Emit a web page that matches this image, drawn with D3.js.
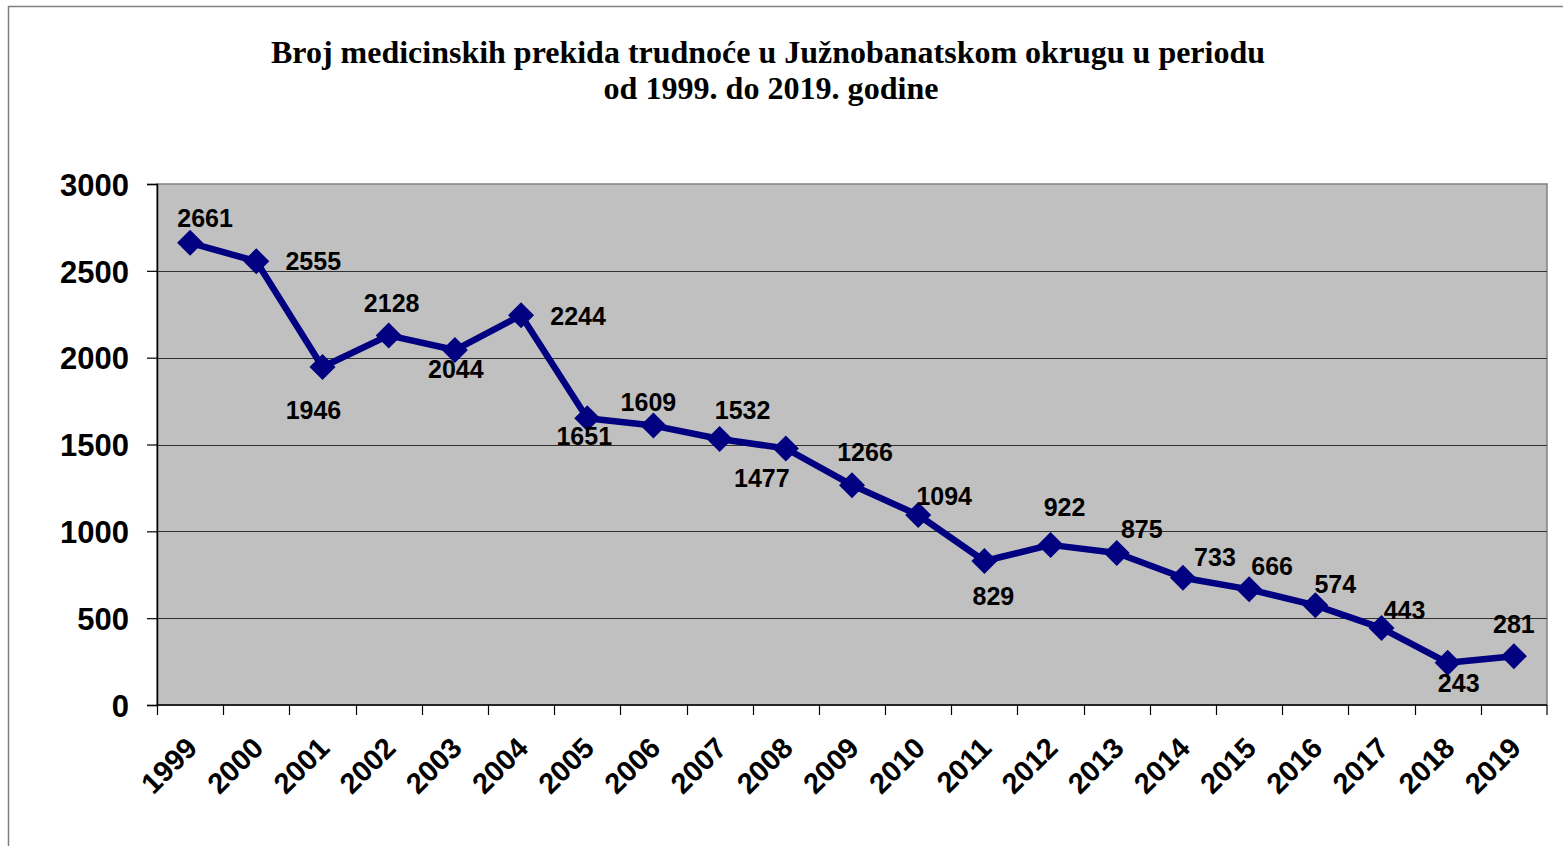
<!DOCTYPE html>
<html>
<head>
<meta charset="utf-8">
<script src="https://cdn.jsdelivr.net/npm/d3@7"></script>
<style>
  body { margin: 0; background: #fff; }
  svg { display: block; }
</style>
</head>
<body>
<svg width="1563" height="846"></svg>
<script>
// chart data
var years = ["1999","2000","2001","2002","2003","2004","2005","2006","2007","2008","2009",
             "2010","2011","2012","2013","2014","2015","2016","2017","2018","2019"];
var values = [2661,2555,1946,2128,2044,2244,1651,1609,1532,1477,1266,
              1094,829,922,875,733,666,574,443,243,281];
var yTicks = [0,500,1000,1500,2000,2500,3000];
var titleLines = ["Broj medicinskih prekida trudnoće u Južnobanatskom okrugu u periodu",
                  "od 1999. do 2019. godine"];

// where each data label sits relative to its point (dx, dy), as placed in the original
var labelOffsets = [[15,-25],[57,0],[-9,43],[3,-32],[1,19],[57,1],[-3,18],[-5,-24],[23,-29],[-24,30],[13,-33],
                    [26,-19],[9,35],[14,-38],[25,-24],[32,-21],[23,-23],[20,-21],[23,-18],[11,20],[0,-32]];

var svg = d3.select("svg"),
    plot = {left: 157, top: 184, right: 1547, bottom: 705};

// outer chart frame
svg.append("rect")
    .attr("x", 8.5).attr("y", 6.5)
    .attr("width", 1700).attr("height", 1000)
    .attr("fill", "#fff").attr("stroke", "#808080").attr("stroke-width", 1.5);

var x = d3.scaleBand().domain(years).range([plot.left, plot.right]);
var y = d3.scaleLinear().domain([0, 3000]).range([plot.bottom, plot.top]);

// plot background
svg.append("rect")
    .attr("x", plot.left).attr("y", plot.top)
    .attr("width", plot.right - plot.left).attr("height", plot.bottom - plot.top)
    .attr("fill", "#c0c0c0")
    .attr("stroke", "#808080").attr("stroke-width", 1.5);

// gridlines
svg.append("g").selectAll("line")
    .data(yTicks.filter(d => d > 0 && d < 3000))
    .enter().append("line")
    .attr("x1", plot.left).attr("x2", plot.right)
    .attr("y1", d => Math.round(y(d)) + 0.5).attr("y2", d => Math.round(y(d)) + 0.5)
    .attr("stroke", "#303030").attr("stroke-width", 1);

// y axis
var yAxis = svg.append("g")
    .attr("transform", "translate(" + plot.left + ",0)")
    .call(d3.axisLeft(y).tickValues(yTicks).tickFormat(d3.format("d")).tickSize(10).tickPadding(18));
yAxis.select(".domain").attr("stroke", "#000").attr("stroke-width", 1.5);
yAxis.selectAll(".tick line").attr("stroke", "#000").attr("stroke-width", 1.2);
yAxis.selectAll("text")
    .attr("font-family", "Liberation Sans, Arial, sans-serif")
    .attr("font-weight", "bold").attr("font-size", 31).attr("fill", "#000")
    .attr("dy", "0.36em");

// x axis, ticks between categories
var xAxisG = svg.append("g").attr("transform", "translate(0," + plot.bottom + ")");
xAxisG.append("line")
    .attr("x1", plot.left).attr("x2", plot.right)
    .attr("stroke", "#000").attr("stroke-width", 1.5);
xAxisG.selectAll(".xt")
    .data(years.concat(["end"]))
    .enter().append("line")
    .attr("class", "xt")
    .attr("x1", (d, i) => i < years.length ? Math.round(x(d)) + 0.5 : plot.right)
    .attr("x2", (d, i) => i < years.length ? Math.round(x(d)) + 0.5 : plot.right)
    .attr("y1", 0).attr("y2", 10)
    .attr("stroke", "#000").attr("stroke-width", 1.2);
xAxisG.selectAll(".xl")
    .data(years)
    .enter().append("text")
    .attr("class", "xl")
    .attr("transform", d => "translate(" + (x(d) + x.bandwidth() / 2 - 6) + ",30) rotate(-45)")
    .attr("text-anchor", "end")
    .attr("font-family", "Liberation Sans, Arial, sans-serif")
    .attr("font-weight", "bold").attr("font-size", 29)
    .attr("dy", "0.72em")
    .text(d => d);

// the series line
var pts = years.map((yr, i) => ({year: yr, value: values[i], off: labelOffsets[i]}));
var line = d3.line().x(d => x(d.year) + x.bandwidth() / 2).y(d => y(d.value));

svg.append("path")
    .datum(pts)
    .attr("d", line)
    .attr("fill", "none")
    .attr("stroke", "#000080").attr("stroke-width", 6.5)
    .attr("stroke-linejoin", "round");

// diamond markers
svg.append("g").selectAll("path")
    .data(pts)
    .enter().append("path")
    .attr("transform", d => "translate(" + (x(d.year) + x.bandwidth() / 2) + "," + y(d.value) + ")")
    .attr("d", "M0,-13L13,0L0,13L-13,0Z")
    .attr("fill", "#000080");

// data labels
svg.append("g").selectAll("text")
    .data(pts)
    .enter().append("text")
    .attr("x", d => x(d.year) + x.bandwidth() / 2 + d.off[0])
    .attr("y", d => y(d.value) + d.off[1])
    .attr("dy", "0.36em")
    .attr("text-anchor", "middle")
    .attr("font-family", "Liberation Sans, Arial, sans-serif")
    .attr("font-weight", "bold").attr("font-size", 25)
    .text(d => d.value);

// title
var title = svg.append("g");
title.append("text")
    .attr("x", 768).attr("y", 63)
    .attr("text-anchor", "middle")
    .attr("font-family", "Liberation Serif, Times New Roman, serif")
    .attr("font-weight", "bold").attr("font-size", 32)
    .attr("textLength", 994).attr("lengthAdjust", "spacingAndGlyphs")
    .text(titleLines[0]);
title.append("text")
    .attr("x", 771).attr("y", 99)
    .attr("text-anchor", "middle")
    .attr("font-family", "Liberation Serif, Times New Roman, serif")
    .attr("font-weight", "bold").attr("font-size", 32)
    .attr("textLength", 335).attr("lengthAdjust", "spacingAndGlyphs")
    .text(titleLines[1]);
</script>
</body>
</html>
